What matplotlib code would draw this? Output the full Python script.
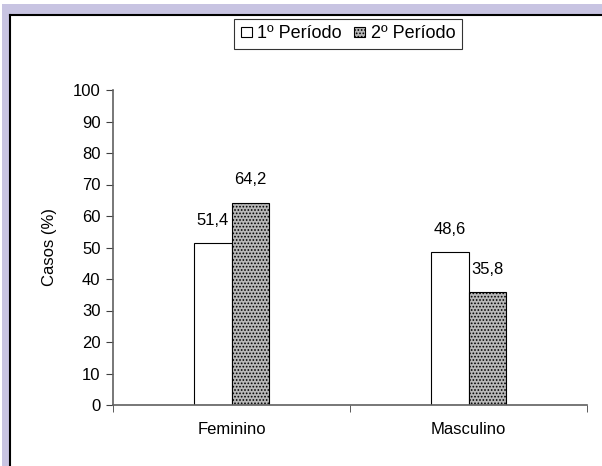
import matplotlib
matplotlib.use("Agg")
import matplotlib.pyplot as plt
from matplotlib.patches import Rectangle
from matplotlib.lines import Line2D
import numpy as np

plt.rcParams['font.family'] = ['Liberation Sans', 'DejaVu Sans']
plt.rcParams['font.size'] = 12
plt.rcParams['hatch.linewidth'] = 0.8

categorias = ['Feminino', 'Masculino']
periodo1 = [51.4, 48.6]
periodo2 = [64.2, 35.8]
series = ['1º Período', '2º Período']

W, H = 602, 466
fig = plt.figure(figsize=(W / 100, H / 100), dpi=100)
fig.patch.set_facecolor('white')

# lavender frame top/left with black inner border
lav = '#c8c4e2'
fig.patches.append(Rectangle((2 / W, 0), 1, 1 - 4 / H, transform=fig.transFigure,
                             facecolor=lav, edgecolor='none', zorder=-3))
fig.patches.append(Rectangle((9 / W, 0), 1, 1 - 15 / H, transform=fig.transFigure,
                             facecolor='white', edgecolor='none', zorder=-2))
fig.lines.append(Line2D([9.5 / W, 1], [1 - 14.5 / H, 1 - 14.5 / H], transform=fig.transFigure,
                        color='black', lw=1.5))
fig.lines.append(Line2D([9.5 / W, 9.5 / W], [0, 1 - 14.5 / H], transform=fig.transFigure,
                        color='black', lw=1.5))

ax = fig.add_axes([113 / W, 1 - 405 / H, (587 - 113) / W, (405 - 90) / H])
ax.set_facecolor('none')

x = np.arange(len(categorias))
w = 0.16
b1 = ax.bar(x - w / 2, periodo1, w, color='white', edgecolor='black', lw=0.8, label=series[0])
b2 = ax.bar(x + w / 2, periodo2, w, color='#b8b8b8', edgecolor='black', lw=0.8,
            hatch='.....', label=series[1])

for bars, vals in [(b1, periodo1), (b2, periodo2)]:
    for r, v in zip(bars, vals):
        ax.annotate(('%.1f' % v).replace('.', ','), (r.get_x() + r.get_width() / 2, v),
                    xytext=(0, 11), textcoords='offset points', ha='center', va='bottom')

ax.set_xlim(-0.5, 1.5)
ax.set_ylim(0, 100)
ax.set_yticks(range(0, 101, 10))
ax.set_xticks(x)
ax.set_xticklabels(categorias)
ax.set_xticks([-0.5, 0.5, 1.5], minor=True)
ax.tick_params(axis='x', which='major', length=0, pad=12)
ax.tick_params(axis='x', which='minor', length=5, color='#404040', direction='out')
ax.tick_params(axis='y', length=5, color='#404040', direction='out', pad=4)
for s in ['top', 'right']:
    ax.spines[s].set_visible(False)
for s in ['left', 'bottom']:
    ax.spines[s].set_color('#606060')
    ax.spines[s].set_linewidth(1.2)
ax.set_ylabel('Casos (%)', labelpad=11)

leg = ax.legend(loc='center', bbox_to_anchor=(348 / W, 1 - 34 / H), bbox_transform=fig.transFigure,
                ncol=2, frameon=True, fancybox=False, fontsize=13, handlelength=0.6, handleheight=0.45,
                handletextpad=0.3, columnspacing=0.7, borderpad=0.35, borderaxespad=0)
leg.get_frame().set_edgecolor('black')
leg.get_frame().set_linewidth(0.8)

fig.savefig('out.png', dpi=100)
